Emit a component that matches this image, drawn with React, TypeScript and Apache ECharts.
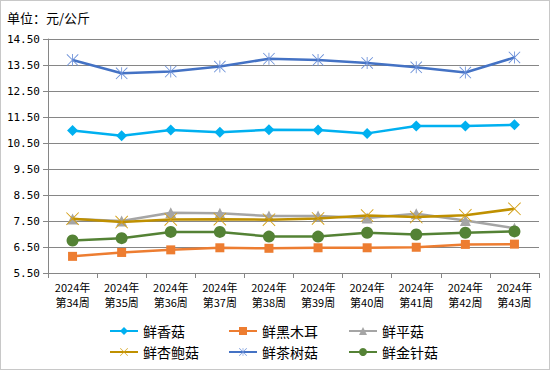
import React, { useEffect, useRef } from "react";
import * as echarts from "echarts";

const categories = [
  "2024年\n第34周", "2024年\n第35周", "2024年\n第36周", "2024年\n第37周", "2024年\n第38周",
  "2024年\n第39周", "2024年\n第40周", "2024年\n第41周", "2024年\n第42周", "2024年\n第43周",
];
const xianggu = [10.98, 10.78, 11.0, 10.91, 11.01, 11.0, 10.87, 11.15, 11.15, 11.2];
const heimuer = [6.14, 6.29, 6.39, 6.47, 6.45, 6.47, 6.47, 6.49, 6.6, 6.61];
const pinggu = [7.58, 7.5, 7.82, 7.8, 7.69, 7.69, 7.62, 7.78, 7.52, 7.22];
const xingbaogu = [7.59, 7.46, 7.56, 7.57, 7.55, 7.6, 7.71, 7.65, 7.72, 7.97];
const chashugu = [13.69, 13.18, 13.25, 13.44, 13.74, 13.69, 13.58, 13.41, 13.21, 13.79];
const jinzhengu = [6.75, 6.84, 7.08, 7.08, 6.9, 6.9, 7.05, 6.98, 7.05, 7.1];

const names = ["鲜香菇", "鲜黑木耳", "鲜平菇", "鲜杏鲍菇", "鲜茶树菇", "鲜金针菇"];
const colors = ["#00B0F0", "#ED7D31", "#A5A5A5", "#BF9000", "#4472C4", "#548235"];

const X_PATH = "path://M0,1 L1,0 L10,9 L19,0 L20,1 L11,10 L20,19 L19,20 L10,11 L1,20 L0,19 L9,10 Z";
const STAR_PATH =
  "path://M0,1 L1,0 L10,9 L19,0 L20,1 L11,10 L20,19 L19,20 L10,11 L1,20 L0,19 L9,10 Z M9.3,0 L10.7,0 L10.7,20 L9.3,20 Z";

export default function App() {
  const ref = useRef<HTMLDivElement>(null);
  useEffect(() => {
    if (!ref.current) return;
    const chart = echarts.init(ref.current, undefined, { renderer: "svg" });
    const dataSets = [xianggu, heimuer, pinggu, xingbaogu, chashugu, jinzhengu];
    const symbols = ["diamond", "rect", "triangle", X_PATH, STAR_PATH, "circle"];
    const sizes = [11, 9, 11, 13, 12, 12];
    const markerColors = ["#00B0F0", "#ED7D31", "#A5A5A5", "#D4A017", "#6A8FD8", "#548235"];
    const series = names.map((n, i) => ({
      name: n,
      type: "line",
      data: dataSets[i],
      symbol: symbols[i],
      symbolSize: sizes[i],
      showAllSymbol: true,
      lineStyle: { color: colors[i], width: 2.5 },
      itemStyle: { color: markerColors[i] },
      z: 2 + i,
    }));
    const legendPos = [
      [108, 323],
      [227, 323],
      [347, 323],
      [108, 344],
      [227, 344],
      [347, 344],
    ];
    const legends = names.map((n, i) => ({
      data: [n],
      left: legendPos[i][0],
      top: legendPos[i][1],
      padding: 0,
      itemWidth: 28,
      itemHeight: 10,
      itemGap: 5,
      textStyle: { fontSize: 14, color: "#000", fontFamily: "Noto Sans CJK SC" },
    }));
    chart.setOption({
      animation: false,
      backgroundColor: "#fff",
      title: {
        text: "单位：元/公斤",
        left: 6,
        top: 10,
        padding: 0,
        textStyle: { fontSize: 13, fontWeight: "normal", color: "#000", fontFamily: "Noto Sans CJK SC" },
      },
      legend: legends,
      grid: { left: 47, right: 10, top: 38, bottom: 96, containLabel: false },
      xAxis: {
        type: "category",
        data: categories,
        boundaryGap: true,
        axisLine: { lineStyle: { color: "#868686", width: 1 } },
        axisTick: { show: true, length: 5, lineStyle: { color: "#868686" } },
        axisLabel: {
          interval: 0,
          color: "#000",
          fontSize: 11,
          lineHeight: 15,
          margin: 6,
          fontFamily: "Noto Sans CJK SC",
        },
      },
      yAxis: {
        type: "value",
        min: 5.5,
        max: 14.5,
        interval: 1,
        axisLine: { show: true, lineStyle: { color: "#868686", width: 1 } },
        axisTick: { show: true, length: 5, lineStyle: { color: "#868686" } },
        splitLine: { lineStyle: { color: "#868686", width: 1 } },
        axisLabel: {
          color: "#000",
          fontSize: 11,
          margin: 8,
          fontFamily: "DejaVu Sans Mono",
          formatter: (v: number) => v.toFixed(2),
        },
      },
      series,
    });
    return () => chart.dispose();
  }, []);
  return (
    <div
      style={{
        position: "fixed",
        left: 0,
        top: 0,
        width: 548,
        height: 368,
        border: "1px solid #C8C8C8",
        background: "#fff",
      }}
    >
      <div ref={ref} style={{ width: 548, height: 368 }} />
    </div>
  );
}
